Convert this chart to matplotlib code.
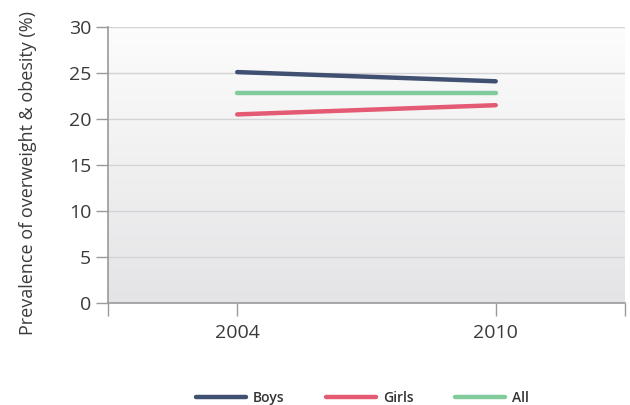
import matplotlib
matplotlib.use("Agg")
import matplotlib.pyplot as plt
import numpy as np

plt.rcParams['font.family'] = ['Open Sans', 'DejaVu Sans']

years = ['2004', '2010']
boys = [25.1, 24.1]
girls = [20.5, 21.5]
all_ = [22.8, 22.8]

fig = plt.figure(figsize=(6.3, 4.05), dpi=100)
ax = fig.add_axes([0.1714, 0.2519, 0.8206, 0.6814])

# background gradient, white at top to light grey at bottom
grad = np.linspace(0, 1, 256).reshape(-1, 1)
top = np.array([0.99, 0.99, 0.99])
bot = np.array([0.894, 0.894, 0.902])
img = top + (bot - top) * grad[:, :, None]
ax.imshow(img, extent=[0, 1, 0, 1], transform=ax.transAxes, aspect='auto', zorder=0)

x = np.arange(len(years))
ax.plot(x, boys, color='#3f5070', lw=3.2, solid_capstyle='round', label='Boys', zorder=3)
ax.plot(x, girls, color='#e35a72', lw=3.2, solid_capstyle='round', label='Girls', zorder=3)
ax.plot(x, all_, color='#82cb9d', lw=3.2, solid_capstyle='round', label='All', zorder=3)

ax.set_xlim(-0.5, 1.5)
ax.set_ylim(0, 30)
ax.set_yticks(range(0, 31, 5))
ax.set_xticks(x)
ax.set_xticklabels(years)
ax.set_xticks([-0.5, 1.5], minor=True)
ax.grid(axis='y', color='#d4d4d6', lw=1, zorder=1)
ax.set_axisbelow(True)

for s in ['top', 'right']:
    ax.spines[s].set_visible(False)
for s in ['left', 'bottom']:
    ax.spines[s].set_color('#9a9a9a')
    ax.spines[s].set_linewidth(1.2)

ax.tick_params(axis='y', length=9, width=1, color='#9a9a9a', labelsize=14,
               labelcolor='#3a3a3a', pad=3)
ax.tick_params(axis='x', which='both', length=9, width=1, color='#9a9a9a',
               labelsize=14, labelcolor='#3a3a3a', pad=6)
ax.set_ylabel('Prevalence of overweight & obesity (%)', fontsize=13,
              color='#3a3a3a', va='center')
ax.yaxis.set_label_coords(-0.155, 0.47)

leg = fig.legend(loc='center', bbox_to_anchor=(0.575, 0.017), ncol=3,
                 frameon=False, fontsize=10, handlelength=3.6, columnspacing=3.0,
                 handletextpad=0.5)
for t in leg.get_texts():
    t.set_color('#333333')
    t.set_fontweight('semibold')

fig.savefig('out.png', dpi=100)
